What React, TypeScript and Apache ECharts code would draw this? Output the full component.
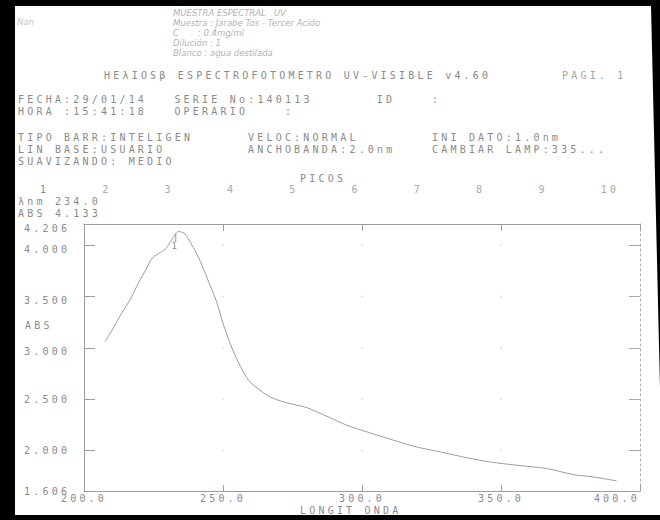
import React, { useEffect, useRef } from "react";
import * as echarts from "echarts";

// Absorbance spectrum (nm, ABS)
const wavelengths = [
  207.5, 210.5, 213.5, 216.5, 219.5, 222.5, 224.5, 227.5, 229.5, 231.5, 233.0, 234.0,
  236.3, 238.1, 240.5, 242.9, 245.3, 247.7, 250.1, 253.5, 257.3, 259.7, 263.3, 266.9,
  271.7, 276.5, 280.1, 283.7, 288.5, 294.5, 301.7, 311.3, 319.6, 328.1, 337.7, 346.0,
  355.6, 366.4, 376.0, 383.2, 391.6,
];
const absorbance = [
  3.059, 3.19, 3.336, 3.465, 3.628, 3.774, 3.872, 3.93, 3.969, 4.05, 4.11, 4.133,
  4.11, 4.034, 3.92, 3.774, 3.611, 3.449, 3.23, 2.98, 2.766, 2.669, 2.588, 2.523,
  2.474, 2.442, 2.419, 2.377, 2.32, 2.247, 2.182, 2.101, 2.035, 1.987, 1.93, 1.889,
  1.857, 1.825, 1.766, 1.743, 1.704,
];

// Axis ticks
const yTicks = [1.606, 2.0, 2.5, 3.0, 3.5, 4.0, 4.206];
const yGrid = [2.0, 2.5, 3.0, 3.5, 4.0];
const xGrid = [250, 300, 350];

// Detected peak
const peakNm = 234.0;
const peakAbs = 4.133;
const peakNumbers = ["1", "2", "3", "4", "5", "6", "7", "8", "9", "10"];

// Printed header lines (text, column)
const headerRows: { y: number; cols: [string, number][] }[] = [
  { y: 99.5, cols: [["FECHA:29/01/14", 0], ["SERIE No:140113", 17], ["ID    :", 39]] },
  { y: 111.5, cols: [["HORA :15:41:18", 0], ["OPERARIO    :", 17]] },
  { y: 137.5, cols: [["TIPO BARR:INTELIGEN", 0], ["VELOC:NORMAL", 25], ["INI DATO:1.0nm", 45]] },
  { y: 149.5, cols: [["LIN BASE:USUARIO", 0], ["ANCHOBANDA:2.0nm", 25], ["CAMBIAR LAMP:335...", 45]] },
  { y: 161.5, cols: [["SUAVIZANDO: MEDIO", 0]] },
];
const handNotes = [
  "MUESTRA ESPECTRAL   UV",
  "Muestra : Jarabe Tos - Tercer Acido",
  "C       : 0.4mg/ml",
  "Dilución : 1",
  "Blanco : agua destilada",
];

const INK = "#8a8a8a";
const LINE = "#9c9c9c";
const MONO = "'DejaVu Sans Mono', monospace";
const CW = 9.2; // printer character pitch
const MARGIN = 18;

export default function App() {
  const ref = useRef<HTMLDivElement>(null);

  useEffect(() => {
    if (!ref.current) return;
    const chart = echarts.init(ref.current, null, { renderer: "svg" });

    const txt = (text: string, x: number, y: number, extra: any = {}) => ({
      type: "text",
      x,
      y,
      silent: true,
      style: {
        text,
        fill: INK,
        font: `10px ${MONO}`,
        textVerticalAlign: "middle",
        ...extra,
      },
    });

    const graphics: any[] = [
      {
        type: "polygon",
        silent: true,
        z: -10,
        shape: { points: [[15, 6], [651, 6], [663, 515], [15, 515]] },
        style: { fill: "#ffffff" },
      },
      txt("Nan", 17, 22, { fill: "#c4c4c4", font: `italic 8.5px 'DejaVu Sans'` }),
    ];
    handNotes.forEach((n, i) => {
      graphics.push(
        txt(n, 173, 13 + i * 10, { fill: "#b2b2b2", font: `italic 8.5px 'DejaVu Sans'` })
      );
    });
    graphics.push(
      txt("HEλIOSβ ESPECTROFOTOMETRO UV-VISIBLE v4.60", 104, 75),
      txt("PAGI. 1", 562, 75, { fill: "#a4a4a4" })
    );
    headerRows.forEach((r) => {
      r.cols.forEach(([t, c]) => graphics.push(txt(t, MARGIN + c * CW, r.y)));
    });
    graphics.push(txt("PICOS", 300, 178));
    peakNumbers.forEach((p, i) => {
      graphics.push(txt(p, 40 + i * 62.3, 189.5, { fill: i === 0 ? INK : "#a8a8a8" }));
    });
    graphics.push(txt(`λnm ${peakNm.toFixed(1)}`, MARGIN, 201.5));
    graphics.push(txt(`ABS ${peakAbs.toFixed(3)}`, MARGIN, 213.5));
    graphics.push(txt("ABS", 25, 325));
    graphics.push(txt("LONGIT ONDA", 300, 510));

    // faint dots at grid intersections
    const gridDots: number[][] = [];
    xGrid.forEach((x) => yGrid.forEach((y) => gridDots.push([x, y])));

    const labelFont = { color: INK, fontFamily: MONO, fontSize: 10 };

    const option: any = {
      animation: false,
      backgroundColor: "#000000",
      grid: { left: 84, right: 20, top: 224, bottom: 29 },
      xAxis: [
        {
          type: "value",
          min: 200,
          max: 400,
          interval: 50,
          axisLine: { show: true, lineStyle: { color: LINE, width: 1 } },
          axisTick: { show: true, inside: true, length: 6, lineStyle: { color: LINE } },
          axisLabel: {
            ...labelFont,
            margin: 2,
            alignMaxLabel: "right",
            formatter: (v: number) => v.toFixed(1),
          },
          splitLine: { show: false },
        },
        {
          type: "value",
          min: 200,
          max: 400,
          interval: 50,
          position: "top",
          axisLine: { show: true, lineStyle: { color: LINE } },
          axisTick: { show: true, inside: true, length: 7, lineStyle: { color: LINE } },
          axisLabel: { show: false },
          splitLine: { show: false },
        },
      ],
      yAxis: [
        {
          type: "value",
          min: 1.606,
          max: 4.206,
          axisLine: { show: true, lineStyle: { color: LINE, width: 1 } },
          axisTick: {
            show: true,
            inside: true,
            length: 11,
            customValues: yTicks,
            lineStyle: { color: LINE },
          },
          axisLabel: {
            ...labelFont,
            align: "left",
            margin: 60,
            customValues: yTicks,
            // upper labels sit a few pixels below their ticks
            formatter: (v: number) =>
              v >= 3 ? `{lo|${v.toFixed(3)}}` : v.toFixed(3),
            rich: {
              lo: { ...labelFont, padding: [8, 0, 0, 0] },
            },
          },
          splitLine: { show: false },
        },
        {
          type: "value",
          min: 1.606,
          max: 4.206,
          position: "right",
          axisLine: { show: true, lineStyle: { color: "#a8a8a8", type: [2, 3] } },
          axisTick: {
            show: true,
            inside: true,
            length: 11,
            customValues: yGrid,
            lineStyle: { color: "#a8a8a8" },
          },
          axisLabel: { show: false },
          splitLine: { show: false },
        },
      ],
      series: [
        {
          type: "line",
          data: wavelengths.map((w, i) => [w, absorbance[i]]),
          smooth: 0.3,
          symbol: "none",
          lineStyle: { color: LINE, width: 1 },
          markPoint: {
            symbol: "rect",
            symbolSize: [1, 9],
            symbolOffset: [0, 6],
            itemStyle: { color: LINE },
            label: {
              show: true,
              position: "bottom",
              distance: 0,
              formatter: "1",
              color: INK,
              fontFamily: MONO,
              fontSize: 9,
            },
            data: [{ coord: [peakNm - 1, peakAbs] }],
          },
        },
        {
          type: "scatter",
          data: gridDots,
          symbolSize: 2,
          itemStyle: { color: "#dcdcdc" },
          silent: true,
        },
      ],
      graphic: graphics,
    };

    chart.setOption(option);
    return () => chart.dispose();
  }, []);

  return (
    <>
      {/* wide printer pitch for the monospaced texts */}
      <style>{`svg text[style*="Mono"] { letter-spacing: 3.2px; }`}</style>
      <div
        ref={ref}
        style={{ position: "absolute", left: 0, top: 0, width: 660, height: 520 }}
      />
    </>
  );
}
